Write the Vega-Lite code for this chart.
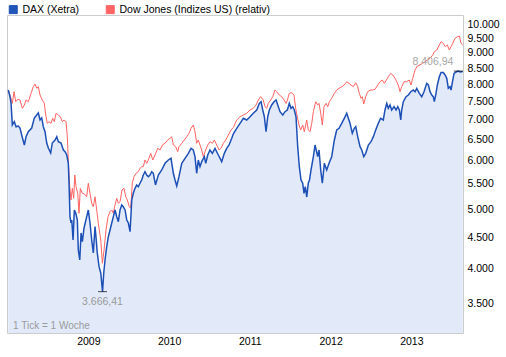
{
"$schema": "https://vega.github.io/schema/vega-lite/v6.json",
"width": 456, "height": 318,
"autosize": {"type": "none"},
"padding": {"left": 7, "top": 15, "right": 43, "bottom": 24},
"background": "white",
"config": {"font": "Liberation Sans", "view": {"stroke": "#cccccc", "strokeWidth": 1}},
"datasets": {
"dax": [
{"t":2008.009,"v":7829},{"t":2008.030,"v":7634},{"t":2008.043,"v":7455},{"t":2008.059,"v":6863},{"t":2008.084,"v":6949},{"t":2008.105,"v":6819},{"t":2008.133,"v":6837},{"t":2008.154,"v":6786},{"t":2008.175,"v":6610},{"t":2008.208,"v":6366},{"t":2008.229,"v":6568},{"t":2008.257,"v":6693},{"t":2008.299,"v":6786},{"t":2008.331,"v":7047},{"t":2008.361,"v":7127},{"t":2008.381,"v":7180},{"t":2008.402,"v":6994},{"t":2008.423,"v":7047},{"t":2008.443,"v":6819},{"t":2008.464,"v":6693},{"t":2008.485,"v":6414},{"t":2008.505,"v":6294},{"t":2008.534,"v":6176},{"t":2008.554,"v":6414},{"t":2008.588,"v":6487},{"t":2008.609,"v":6568},{"t":2008.629,"v":6445},{"t":2008.662,"v":6414},{"t":2008.691,"v":6247},{"t":2008.712,"v":6207},{"t":2008.733,"v":6131},{"t":2008.752,"v":5949},{"t":2008.761,"v":5518},{"t":2008.773,"v":4861},{"t":2008.786,"v":4747},{"t":2008.795,"v":4801},{"t":2008.811,"v":4453},{"t":2008.827,"v":4985},{"t":2008.844,"v":4929},{"t":2008.864,"v":4801},{"t":2008.876,"v":4288},{"t":2008.894,"v":4130},{"t":2008.910,"v":4572},{"t":2008.926,"v":4425},{"t":2008.947,"v":4659},{"t":2008.980,"v":4861},{"t":2009.000,"v":4985},{"t":2009.021,"v":4747},{"t":2009.042,"v":4453},{"t":2009.062,"v":4240},{"t":2009.083,"v":4682},{"t":2009.095,"v":4508},{"t":2009.111,"v":4240},{"t":2009.133,"v":4027},{"t":2009.154,"v":3933},{"t":2009.176,"v":3666.41},{"t":2009.191,"v":3933},{"t":2009.207,"v":4130},{"t":2009.228,"v":4342},{"t":2009.248,"v":4508},{"t":2009.269,"v":4624},{"t":2009.290,"v":4747},{"t":2009.310,"v":4861},{"t":2009.331,"v":4985},{"t":2009.352,"v":4861},{"t":2009.372,"v":4770},{"t":2009.393,"v":4985},{"t":2009.414,"v":5080},{"t":2009.433,"v":5047},{"t":2009.455,"v":4985},{"t":2009.476,"v":4801},{"t":2009.496,"v":4747},{"t":2009.517,"v":4594},{"t":2009.538,"v":5176},{"t":2009.557,"v":5308},{"t":2009.578,"v":5409},{"t":2009.599,"v":5477},{"t":2009.619,"v":5442},{"t":2009.640,"v":5512},{"t":2009.661,"v":5581},{"t":2009.681,"v":5687},{"t":2009.702,"v":5758},{"t":2009.723,"v":5687},{"t":2009.743,"v":5651},{"t":2009.764,"v":5687},{"t":2009.785,"v":5758},{"t":2009.805,"v":5723},{"t":2009.832,"v":5477},{"t":2009.867,"v":5687},{"t":2009.909,"v":5795},{"t":2009.950,"v":5942},{"t":2009.991,"v":6017},{"t":2010.024,"v":6055},{"t":2010.053,"v":5723},{"t":2010.074,"v":5581},{"t":2010.095,"v":5456},{"t":2010.123,"v":5651},{"t":2010.157,"v":5942},{"t":2010.198,"v":6055},{"t":2010.239,"v":6169},{"t":2010.272,"v":6287},{"t":2010.300,"v":6247},{"t":2010.321,"v":6092},{"t":2010.342,"v":5723},{"t":2010.362,"v":6017},{"t":2010.383,"v":5867},{"t":2010.404,"v":5979},{"t":2010.437,"v":6092},{"t":2010.454,"v":5942},{"t":2010.479,"v":6131},{"t":2010.507,"v":6247},{"t":2010.536,"v":6169},{"t":2010.569,"v":6287},{"t":2010.610,"v":6131},{"t":2010.652,"v":5979},{"t":2010.684,"v":6169},{"t":2010.714,"v":6287},{"t":2010.743,"v":6366},{"t":2010.776,"v":6528},{"t":2010.798,"v":6647},{"t":2010.838,"v":6778},{"t":2010.879,"v":6907},{"t":2010.920,"v":7039},{"t":2010.962,"v":6994},{"t":2011.003,"v":7081},{"t":2011.043,"v":7172},{"t":2011.086,"v":7262},{"t":2011.118,"v":7446},{"t":2011.139,"v":7492},{"t":2011.160,"v":7262},{"t":2011.180,"v":7081},{"t":2011.201,"v":6693},{"t":2011.222,"v":7081},{"t":2011.242,"v":7262},{"t":2011.271,"v":7400},{"t":2011.300,"v":7492},{"t":2011.325,"v":7540},{"t":2011.346,"v":7400},{"t":2011.374,"v":7216},{"t":2011.408,"v":7127},{"t":2011.436,"v":7216},{"t":2011.465,"v":7262},{"t":2011.489,"v":7446},{"t":2011.510,"v":7308},{"t":2011.531,"v":7353},{"t":2011.551,"v":7262},{"t":2011.572,"v":7081},{"t":2011.593,"v":6325},{"t":2011.613,"v":5867},{"t":2011.634,"v":5581},{"t":2011.655,"v":5512},{"t":2011.671,"v":5308},{"t":2011.687,"v":5442},{"t":2011.705,"v":5234},{"t":2011.724,"v":5512},{"t":2011.739,"v":5581},{"t":2011.758,"v":5795},{"t":2011.787,"v":6092},{"t":2011.808,"v":6366},{"t":2011.841,"v":6092},{"t":2011.857,"v":6247},{"t":2011.878,"v":5795},{"t":2011.898,"v":5512},{"t":2011.923,"v":5942},{"t":2011.952,"v":5795},{"t":2011.981,"v":5942},{"t":2012.014,"v":6092},{"t":2012.047,"v":6487},{"t":2012.076,"v":6736},{"t":2012.105,"v":6778},{"t":2012.138,"v":6907},{"t":2012.170,"v":7039},{"t":2012.200,"v":7172},{"t":2012.220,"v":7039},{"t":2012.241,"v":6907},{"t":2012.269,"v":6652},{"t":2012.294,"v":6778},{"t":2012.312,"v":6819},{"t":2012.336,"v":6568},{"t":2012.365,"v":6325},{"t":2012.386,"v":6247},{"t":2012.411,"v":6092},{"t":2012.435,"v":6169},{"t":2012.468,"v":6366},{"t":2012.501,"v":6445},{"t":2012.530,"v":6568},{"t":2012.559,"v":6736},{"t":2012.591,"v":6907},{"t":2012.620,"v":7039},{"t":2012.653,"v":6994},{"t":2012.674,"v":7262},{"t":2012.696,"v":7446},{"t":2012.715,"v":7308},{"t":2012.736,"v":7400},{"t":2012.757,"v":7262},{"t":2012.786,"v":7353},{"t":2012.811,"v":7262},{"t":2012.832,"v":7353},{"t":2012.852,"v":7262},{"t":2012.869,"v":6994},{"t":2012.881,"v":7262},{"t":2012.901,"v":7492},{"t":2012.935,"v":7634},{"t":2012.963,"v":7683},{"t":2012.993,"v":7779},{"t":2013.025,"v":7829},{"t":2013.046,"v":7779},{"t":2013.067,"v":7879},{"t":2013.099,"v":7732},{"t":2013.129,"v":7634},{"t":2013.157,"v":7779},{"t":2013.191,"v":8028},{"t":2013.211,"v":7978},{"t":2013.232,"v":7779},{"t":2013.253,"v":7683},{"t":2013.272,"v":7634},{"t":2013.285,"v":7492},{"t":2013.306,"v":7732},{"t":2013.322,"v":7978},{"t":2013.347,"v":8231},{"t":2013.368,"v":8362},{"t":2013.396,"v":8362},{"t":2013.418,"v":8284},{"t":2013.439,"v":8181},{"t":2013.458,"v":7879},{"t":2013.479,"v":7927},{"t":2013.492,"v":7829},{"t":2013.513,"v":8129},{"t":2013.529,"v":8336},{"t":2013.554,"v":8378},{"t":2013.582,"v":8406.94},{"t":2013.603,"v":8378},{"t":2013.637,"v":8393}
],
"dow": [
{"t":2008.009,"v":7829},{"t":2008.043,"v":7588},{"t":2008.059,"v":7446},{"t":2008.080,"v":7779},{"t":2008.101,"v":7492},{"t":2008.126,"v":7559},{"t":2008.154,"v":7540},{"t":2008.183,"v":7308},{"t":2008.208,"v":7400},{"t":2008.229,"v":7540},{"t":2008.257,"v":7492},{"t":2008.291,"v":7732},{"t":2008.319,"v":7927},{"t":2008.340,"v":8007},{"t":2008.361,"v":7879},{"t":2008.381,"v":7927},{"t":2008.402,"v":7683},{"t":2008.430,"v":7540},{"t":2008.455,"v":7446},{"t":2008.473,"v":7127},{"t":2008.492,"v":6907},{"t":2008.513,"v":6949},{"t":2008.538,"v":6907},{"t":2008.559,"v":7039},{"t":2008.579,"v":6949},{"t":2008.600,"v":7172},{"t":2008.629,"v":7127},{"t":2008.653,"v":7081},{"t":2008.678,"v":6949},{"t":2008.699,"v":6994},{"t":2008.724,"v":6949},{"t":2008.740,"v":6568},{"t":2008.752,"v":6017},{"t":2008.770,"v":5442},{"t":2008.786,"v":5176},{"t":2008.802,"v":5409},{"t":2008.819,"v":5209},{"t":2008.832,"v":5687},{"t":2008.848,"v":5442},{"t":2008.869,"v":5308},{"t":2008.885,"v":4923},{"t":2008.901,"v":5409},{"t":2008.926,"v":5308},{"t":2008.951,"v":5294},{"t":2008.980,"v":5240},{"t":2009.000,"v":5512},{"t":2009.021,"v":5308},{"t":2009.042,"v":5112},{"t":2009.062,"v":5047},{"t":2009.083,"v":5240},{"t":2009.104,"v":4985},{"t":2009.124,"v":4741},{"t":2009.154,"v":4453},{"t":2009.174,"v":4079},{"t":2009.195,"v":4288},{"t":2009.219,"v":4624},{"t":2009.244,"v":4861},{"t":2009.269,"v":4953},{"t":2009.290,"v":4985},{"t":2009.310,"v":4923},{"t":2009.331,"v":5080},{"t":2009.352,"v":5209},{"t":2009.372,"v":5112},{"t":2009.393,"v":5143},{"t":2009.417,"v":5375},{"t":2009.442,"v":5409},{"t":2009.463,"v":5240},{"t":2009.483,"v":5176},{"t":2009.508,"v":5047},{"t":2009.525,"v":5017},{"t":2009.545,"v":5512},{"t":2009.566,"v":5651},{"t":2009.591,"v":5723},{"t":2009.619,"v":5758},{"t":2009.640,"v":5832},{"t":2009.661,"v":5867},{"t":2009.681,"v":5867},{"t":2009.702,"v":6017},{"t":2009.723,"v":5942},{"t":2009.743,"v":6017},{"t":2009.773,"v":6169},{"t":2009.798,"v":6017},{"t":2009.826,"v":6131},{"t":2009.860,"v":6287},{"t":2009.888,"v":6247},{"t":2009.917,"v":6366},{"t":2009.950,"v":6407},{"t":2009.983,"v":6487},{"t":2010.012,"v":6528},{"t":2010.033,"v":6568},{"t":2010.053,"v":6366},{"t":2010.082,"v":6325},{"t":2010.107,"v":6207},{"t":2010.123,"v":6325},{"t":2010.157,"v":6407},{"t":2010.189,"v":6487},{"t":2010.219,"v":6568},{"t":2010.247,"v":6652},{"t":2010.272,"v":6778},{"t":2010.300,"v":6863},{"t":2010.321,"v":6693},{"t":2010.342,"v":6407},{"t":2010.362,"v":6487},{"t":2010.383,"v":6366},{"t":2010.404,"v":6247},{"t":2010.424,"v":6092},{"t":2010.445,"v":6207},{"t":2010.479,"v":6366},{"t":2010.507,"v":6445},{"t":2010.536,"v":6407},{"t":2010.561,"v":6487},{"t":2010.590,"v":6366},{"t":2010.619,"v":6247},{"t":2010.643,"v":6287},{"t":2010.672,"v":6407},{"t":2010.702,"v":6487},{"t":2010.734,"v":6610},{"t":2010.767,"v":6736},{"t":2010.796,"v":6799},{"t":2010.838,"v":6994},{"t":2010.879,"v":7081},{"t":2010.920,"v":7127},{"t":2010.962,"v":7172},{"t":2011.003,"v":7262},{"t":2011.043,"v":7308},{"t":2011.077,"v":7400},{"t":2011.105,"v":7540},{"t":2011.135,"v":7634},{"t":2011.167,"v":7540},{"t":2011.188,"v":7353},{"t":2011.209,"v":7308},{"t":2011.229,"v":7446},{"t":2011.259,"v":7540},{"t":2011.284,"v":7634},{"t":2011.312,"v":7829},{"t":2011.333,"v":7779},{"t":2011.365,"v":7683},{"t":2011.395,"v":7634},{"t":2011.424,"v":7540},{"t":2011.449,"v":7446},{"t":2011.465,"v":7540},{"t":2011.489,"v":7732},{"t":2011.519,"v":7749},{"t":2011.547,"v":7683},{"t":2011.568,"v":7308},{"t":2011.588,"v":7081},{"t":2011.609,"v":6863},{"t":2011.630,"v":6736},{"t":2011.655,"v":6863},{"t":2011.675,"v":6693},{"t":2011.705,"v":6994},{"t":2011.724,"v":6736},{"t":2011.746,"v":6693},{"t":2011.767,"v":6907},{"t":2011.787,"v":7216},{"t":2011.816,"v":7492},{"t":2011.841,"v":7400},{"t":2011.857,"v":7446},{"t":2011.878,"v":7172},{"t":2011.898,"v":6863},{"t":2011.919,"v":7353},{"t":2011.944,"v":7446},{"t":2011.965,"v":7353},{"t":2011.985,"v":7492},{"t":2012.014,"v":7588},{"t":2012.047,"v":7732},{"t":2012.076,"v":7829},{"t":2012.105,"v":7879},{"t":2012.138,"v":7927},{"t":2012.170,"v":7978},{"t":2012.200,"v":8077},{"t":2012.229,"v":8028},{"t":2012.253,"v":7978},{"t":2012.282,"v":7927},{"t":2012.312,"v":8046},{"t":2012.336,"v":7927},{"t":2012.356,"v":7732},{"t":2012.377,"v":7588},{"t":2012.393,"v":7634},{"t":2012.411,"v":7427},{"t":2012.435,"v":7634},{"t":2012.460,"v":7779},{"t":2012.489,"v":7829},{"t":2012.517,"v":7829},{"t":2012.551,"v":7849},{"t":2012.584,"v":7978},{"t":2012.612,"v":8077},{"t":2012.641,"v":8129},{"t":2012.666,"v":8028},{"t":2012.691,"v":8129},{"t":2012.715,"v":8231},{"t":2012.745,"v":8336},{"t":2012.770,"v":8284},{"t":2012.798,"v":8181},{"t":2012.819,"v":8077},{"t":2012.839,"v":7978},{"t":2012.860,"v":7779},{"t":2012.881,"v":7927},{"t":2012.910,"v":8077},{"t":2012.942,"v":8077},{"t":2012.975,"v":8129},{"t":2012.996,"v":7978},{"t":2013.017,"v":8181},{"t":2013.046,"v":8441},{"t":2013.075,"v":8570},{"t":2013.108,"v":8602},{"t":2013.141,"v":8656},{"t":2013.170,"v":8709},{"t":2013.198,"v":8765},{"t":2013.232,"v":8820},{"t":2013.265,"v":8931},{"t":2013.285,"v":9043},{"t":2013.315,"v":9101},{"t":2013.347,"v":9274},{"t":2013.368,"v":9390},{"t":2013.396,"v":9333},{"t":2013.421,"v":9215},{"t":2013.446,"v":9274},{"t":2013.471,"v":9101},{"t":2013.492,"v":9215},{"t":2013.513,"v":9333},{"t":2013.541,"v":9510},{"t":2013.570,"v":9567},{"t":2013.595,"v":9593},{"t":2013.616,"v":9333},{"t":2013.637,"v":9274}
],
"ext": [
{"t":2009.176,"v":3666.41,"label":"3.666,41","kind":"min"},
{"t":2013.582,"v":8406.94,"label":"8.406,94","kind":"max"}
],
"note": [
{"t":2008.068,"v":3222,"label":"1 Tick = 1 Woche"}
]
},
"encoding": {
"x": {"field": "t", "type": "quantitative",
 "scale": {"domain": [2007.993, 2013.640], "nice": false, "zero": false},
 "axis": {"orient": "bottom", "values": [2009, 2010, 2011, 2012, 2013], "format": "d", "title": null, "grid": false, "ticks": false, "tickSize": 0, "domain": false, "labelPadding": 3, "labelFontSize": 10.5, "labelColor": "black", "labelFlush": false, "labelFont": "Liberation Sans"}},
"y": {"field": "v", "type": "quantitative",
 "scale": {"type": "log", "domain": [3138, 10382], "nice": false, "zero": false},
 "axis": {"orient": "right", "values": [3500, 4000, 4500, 5000, 5500, 6000, 6500, 7000, 7500, 8000, 8500, 9000, 9500, 10000], "labelExpr": "replace(format(datum.value, ','), ',', '.')", "title": null, "grid": false, "ticks": false, "tickSize": 0, "domain": false, "labelPadding": 4, "labelFontSize": 10.5, "labelColor": "black", "labelOverlap": false, "labelFlush": false, "labelFont": "Liberation Sans"}}
},
"layer": [
{"data": {"name": "dax"}, "mark": {"type": "area", "color": "#e2eafa"}, "encoding": {"y2": {"datum": 3138}}},
{"data": {"name": "note"}, "mark": {"type": "text", "align": "left", "baseline": "middle", "fontSize": 10, "color": "#9a9a9a"}, "encoding": {"text": {"field": "label"}}},
{"data": {"name": "dow"}, "mark": {"type": "line", "strokeWidth": 1},
 "encoding": {"color": {"datum": "Dow Jones (Indizes US) (relativ)",
  "scale": {"domain": ["DAX (Xetra)", "Dow Jones (Indizes US) (relativ)"], "range": ["#1d50b6", "#ff6363"]},
  "legend": {"orient": "none", "legendX": 1, "legendY": -11, "direction": "horizontal", "title": null, "symbolType": "square", "symbolSize": 64, "symbolStrokeWidth": 1, "labelFontSize": 10.5, "labelColor": "black", "labelOffset": 4, "columnPadding": 24, "labelFont": "Liberation Sans",
   "encode": {"symbols": {"update": {"fill": {"signal": "datum.value === 'DAX (Xetra)' ? '#2155b8' : '#ff6464'"}, "stroke": {"signal": "datum.value === 'DAX (Xetra)' ? '#0c2c78' : '#9c3030'"}, "fillOpacity": {"value": 1}, "opacity": {"value": 1}}}}}}}},
{"data": {"name": "dax"}, "mark": {"type": "line", "strokeWidth": 1.5},
 "encoding": {"color": {"datum": "DAX (Xetra)"}}},
{"data": {"name": "ext"}, "mark": {"type": "tick", "orient": "horizontal", "size": 9, "thickness": 1, "color": "black"}},
{"data": {"name": "ext"}, "transform": [{"filter": "datum.kind === 'min'"}], "mark": {"type": "text", "align": "center", "baseline": "middle", "dy": 10, "fontSize": 10.5, "color": "#999999"}, "encoding": {"text": {"field": "label"}}},
{"data": {"name": "ext"}, "transform": [{"filter": "datum.kind === 'max'"}], "mark": {"type": "text", "align": "right", "baseline": "middle", "dx": -5, "dy": -9, "fontSize": 10.5, "color": "#a6a6a6"}, "encoding": {"text": {"field": "label"}}}
]
}
